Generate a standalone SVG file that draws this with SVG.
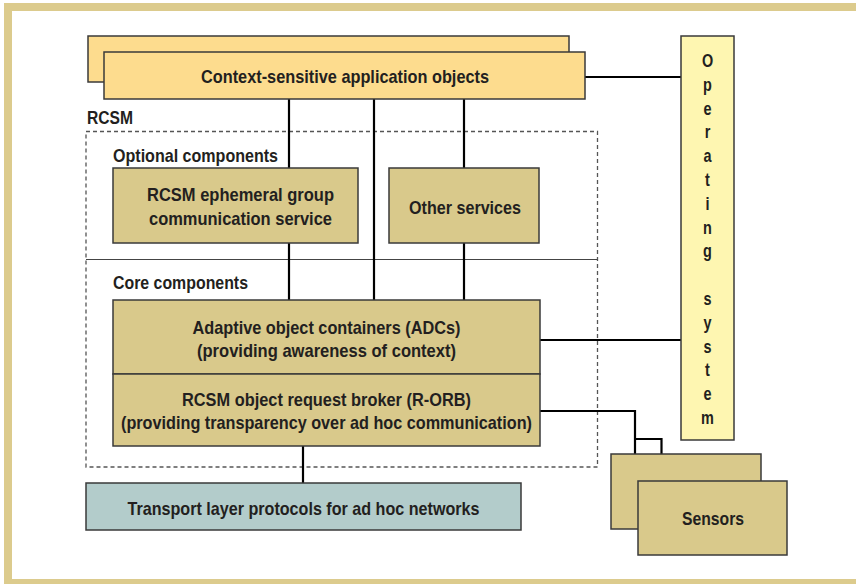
<svg xmlns="http://www.w3.org/2000/svg" width="856" height="584" viewBox="0 0 856 584">
<style>
  .t { font-family: "Liberation Sans Narrow", "Liberation Sans", Arial, sans-serif; font-weight: bold; font-size: 18.5px; fill: #231f20; }
  .c { text-anchor: middle; }
  .box { stroke: #3a3a3a; stroke-width: 1.5; }
  .tan { fill: #d9c98b; }
  .app { fill: #fddc8e; }
  .os { fill: #fef6b1; }
  .tr { fill: #b3cccb; }
  .wire { stroke: #000; stroke-width: 2.2; fill: none; }
</style>
<rect x="0" y="0" width="856" height="584" fill="#fff"/>
<rect x="8" y="7" width="870" height="576" fill="none" stroke="#dccb8d" stroke-width="8"/>

<g id="rcsm-container">
  <rect x="86" y="131.5" width="511.5" height="335.5" fill="none" stroke="#555" stroke-width="1.3" stroke-dasharray="4,3"/>
  <line x1="86" y1="259.5" x2="597.5" y2="259.5" stroke="#444" stroke-width="1.2"/>
  <text class="t" x="87" y="123.5" textLength="46" lengthAdjust="spacingAndGlyphs">RCSM</text>
  <text class="t" x="113" y="161.5" textLength="165" lengthAdjust="spacingAndGlyphs">Optional components</text>
  <text class="t" x="113" y="288.5" textLength="135" lengthAdjust="spacingAndGlyphs">Core components</text>
</g>

<g id="connectors">
  <line class="wire" x1="585" y1="77" x2="681" y2="77"/>
  <line class="wire" x1="289" y1="99" x2="289" y2="168"/>
  <line class="wire" x1="289" y1="243" x2="289" y2="300"/>
  <line class="wire" x1="374" y1="99" x2="374" y2="300"/>
  <line class="wire" x1="464" y1="99" x2="464" y2="168"/>
  <line class="wire" x1="464" y1="243" x2="464" y2="300"/>
  <line class="wire" x1="540" y1="340" x2="681" y2="340"/>
  <polyline class="wire" points="540,411 635,411 635,454"/>
  <polyline class="wire" points="635,439 661.5,439 661.5,454"/>
  <line class="wire" x1="303" y1="446" x2="303" y2="483"/>
</g>

<g id="app-objects">
  <rect class="box app" x="88" y="36" width="481" height="46"/>
  <rect class="box app" x="104" y="52" width="481" height="47"/>
  <text class="t c" x="345" y="82.5" textLength="288" lengthAdjust="spacingAndGlyphs">Context-sensitive application objects</text>
</g>

<g id="ephemeral-group">
  <rect class="box tan" x="113" y="168" width="245" height="75"/>
  <text class="t c" x="240.5" y="200.5" textLength="187" lengthAdjust="spacingAndGlyphs">RCSM ephemeral group</text>
  <text class="t c" x="240.5" y="224.5" textLength="183" lengthAdjust="spacingAndGlyphs">communication service</text>
</g>

<g id="other-services">
  <rect class="box tan" x="389" y="168" width="150" height="75"/>
  <text class="t c" x="465" y="213.5" textLength="112" lengthAdjust="spacingAndGlyphs">Other services</text>
</g>

<g id="adc">
  <rect class="box tan" x="113" y="300" width="427" height="74"/>
  <text class="t c" x="326.5" y="333.5" textLength="268" lengthAdjust="spacingAndGlyphs">Adaptive object containers (ADCs)</text>
  <text class="t c" x="326.5" y="356.5" textLength="259" lengthAdjust="spacingAndGlyphs">(providing awareness of context)</text>
</g>

<g id="r-orb">
  <rect class="box tan" x="113" y="374" width="427" height="72"/>
  <text class="t c" x="326.5" y="405.5" textLength="289" lengthAdjust="spacingAndGlyphs">RCSM object request broker (R-ORB)</text>
  <text class="t c" x="326.5" y="428.5" textLength="411" lengthAdjust="spacingAndGlyphs">(providing transparency over ad hoc communication)</text>
</g>

<g id="transport">
  <rect class="box tr" x="86" y="483" width="435" height="47"/>
  <text class="t c" x="303.5" y="514.5" textLength="352" lengthAdjust="spacingAndGlyphs">Transport layer protocols for ad hoc networks</text>
</g>

<g id="sensors">
  <rect class="box tan" x="611" y="454" width="150" height="75"/>
  <rect class="box tan" x="638" y="481" width="149" height="74"/>
  <text class="t c" x="713" y="524.5" textLength="62" lengthAdjust="spacingAndGlyphs">Sensors</text>
</g>

<g id="operating-system">
  <rect class="box os" x="681" y="36" width="53" height="404"/>
  <g transform="translate(707.5,0) scale(0.78,1)">
    <text class="t c" x="0" y="67">O</text>
    <text class="t c" x="0" y="90.8">p</text>
    <text class="t c" x="0" y="114.6">e</text>
    <text class="t c" x="0" y="138.4">r</text>
    <text class="t c" x="0" y="162.2">a</text>
    <text class="t c" x="0" y="186">t</text>
    <text class="t c" x="0" y="209.8">i</text>
    <text class="t c" x="0" y="233.6">n</text>
    <text class="t c" x="0" y="257.4">g</text>
    <text class="t c" x="0" y="305">s</text>
    <text class="t c" x="0" y="328.8">y</text>
    <text class="t c" x="0" y="352.6">s</text>
    <text class="t c" x="0" y="376.4">t</text>
    <text class="t c" x="0" y="400.2">e</text>
    <text class="t c" x="0" y="424">m</text>
  </g>
</g>
</svg>
